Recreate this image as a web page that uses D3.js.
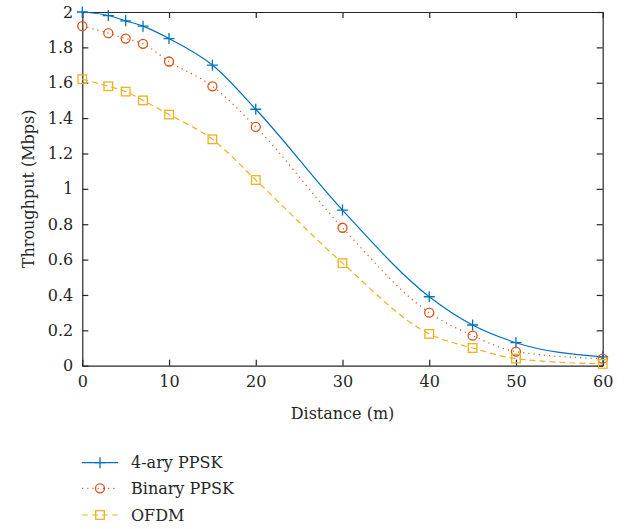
<!DOCTYPE html>
<html>
<head>
<meta charset="utf-8">
<script src="https://cdn.jsdelivr.net/npm/d3@7"></script>
<style>
  body { margin: 0; background: #fff; }
</style>
</head>
<body>
<div id="chart"></div>
<script>
const distance = [0, 3, 5, 7, 10, 15, 20, 30, 40, 45, 50, 60];
const ppsk4 = [2.00, 1.98, 1.95, 1.92, 1.85, 1.70, 1.45, 0.88, 0.39, 0.23, 0.13, 0.05];
const ppskBinary = [1.92, 1.88, 1.85, 1.82, 1.72, 1.58, 1.35, 0.78, 0.30, 0.17, 0.08, 0.04];
const ofdm = [1.62, 1.58, 1.55, 1.50, 1.42, 1.28, 1.05, 0.58, 0.18, 0.10, 0.04, 0.01];
const seriesNames = ["4-ary PPSK", "Binary PPSK", "OFDM"];
const xTicks = [0, 10, 20, 30, 40, 50, 60];
const yTicks = [0, 0.2, 0.4, 0.6, 0.8, 1, 1.2, 1.4, 1.6, 1.8, 2];

const W = 627, H = 529;
const margin = {left: 82.3, right: 24.3, top: 12, bottom: 163.3};
const font = "DejaVu Serif";
const fontSize = 16;
const axisColor = "#262626";

const svg = d3.select('#chart').append('svg')
    .attr('width', W)
    .attr('height', H)
    .attr('font-family', font);

const x = d3.scaleLinear().domain([0, 60]).range([margin.left, W - margin.right]);
const y = d3.scaleLinear().domain([0, 2]).range([H - margin.bottom, margin.top]);

// box axes with inward ticks
function styleAxis(g) {
    g.attr('font-family', font).attr('font-size', fontSize);
    g.selectAll('path').attr('stroke', axisColor).attr('stroke-width', 1.2);
    g.selectAll('line').attr('stroke', axisColor).attr('stroke-width', 1.2);
    g.selectAll('text').attr('fill', axisColor);
}

svg.append('g')
    .attr('transform', `translate(0,${y(0)})`)
    .call(d3.axisBottom(x).tickValues(xTicks).tickSizeInner(-6).tickSizeOuter(0).tickPadding(9))
    .call(styleAxis)
    .call(g => g.selectAll('text').attr('dy', '0.8em'));

svg.append('g')
    .attr('transform', `translate(0,${y(2)})`)
    .call(d3.axisTop(x).tickValues(xTicks).tickSizeInner(-6).tickSizeOuter(0).tickFormat(''))
    .call(styleAxis);

svg.append('g')
    .attr('transform', `translate(${x(0)},0)`)
    .call(d3.axisLeft(y).tickValues(yTicks).tickSizeInner(-6).tickSizeOuter(0).tickPadding(9).tickFormat(d3.format('')))
    .call(styleAxis);

svg.append('g')
    .attr('transform', `translate(${x(60)},0)`)
    .call(d3.axisRight(y).tickValues(yTicks).tickSizeInner(-6).tickSizeOuter(0).tickFormat(''))
    .call(styleAxis);

// axis labels
svg.append('text')
    .attr('x', (x(0) + x(60)) / 2)
    .attr('y', 419)
    .attr('text-anchor', 'middle')
    .attr('font-size', fontSize)
    .attr('fill', axisColor)
    .text('Distance (m)');

svg.append('text')
    .attr('transform', `translate(34,${(y(0) + y(2)) / 2}) rotate(-90)`)
    .attr('text-anchor', 'middle')
    .attr('font-size', fontSize)
    .attr('fill', axisColor)
    .text('Throughput (Mbps)');

const styles = [
    {values: ppsk4, color: "#0072BD", dash: null, marker: 'plus'},
    {values: ppskBinary, color: "#D95319", dash: "1.2,4", marker: 'circle'},
    {values: ofdm, color: "#EDB120", dash: "6,4", marker: 'square'}
];

const line = d3.line()
    .x(d => x(d[0]))
    .y(d => y(d[1]))
    .curve(d3.curveMonotoneX);

function drawMarker(g, type, cx, cy, color) {
    if (type === 'plus') {
        g.append('path')
            .attr('d', `M${cx - 5.5},${cy}H${cx + 5.5}M${cx},${cy - 5.5}V${cy + 5.5}`)
            .attr('stroke', color).attr('stroke-width', 1.3).attr('fill', 'none');
    } else if (type === 'circle') {
        g.append('circle')
            .attr('cx', cx).attr('cy', cy).attr('r', 4.5)
            .attr('stroke', color).attr('stroke-width', 1.3).attr('fill', 'none');
    } else {
        g.append('rect')
            .attr('x', cx - 4.3).attr('y', cy - 4.3).attr('width', 8.6).attr('height', 8.6)
            .attr('stroke', color).attr('stroke-width', 1.3).attr('fill', 'none');
    }
}

const plot = svg.append('g');
styles.forEach(s => {
    const pts = distance.map((d, i) => [d, s.values[i]]);
    plot.append('path')
        .attr('d', line(pts))
        .attr('fill', 'none')
        .attr('stroke', s.color)
        .attr('stroke-width', 1.2)
        .attr('stroke-dasharray', s.dash);
    const mg = plot.append('g');
    pts.forEach(p => drawMarker(mg, s.marker, x(p[0]), y(p[1]), s.color));
});

// legend
const legendY = [462.7, 488.3, 515];
styles.forEach((s, i) => {
    const g = svg.append('g');
    g.append('line')
        .attr('x1', 82).attr('x2', 118)
        .attr('y1', legendY[i]).attr('y2', legendY[i])
        .attr('stroke', s.color).attr('stroke-width', 1.2)
        .attr('stroke-dasharray', s.dash);
    drawMarker(g, s.marker, 100, legendY[i], s.color);
    g.append('text')
        .attr('x', 131)
        .attr('y', legendY[i])
        .attr('dy', '0.35em')
        .attr('font-size', fontSize)
        .attr('fill', axisColor)
        .text(seriesNames[i]);
});
</script>
</body>
</html>
